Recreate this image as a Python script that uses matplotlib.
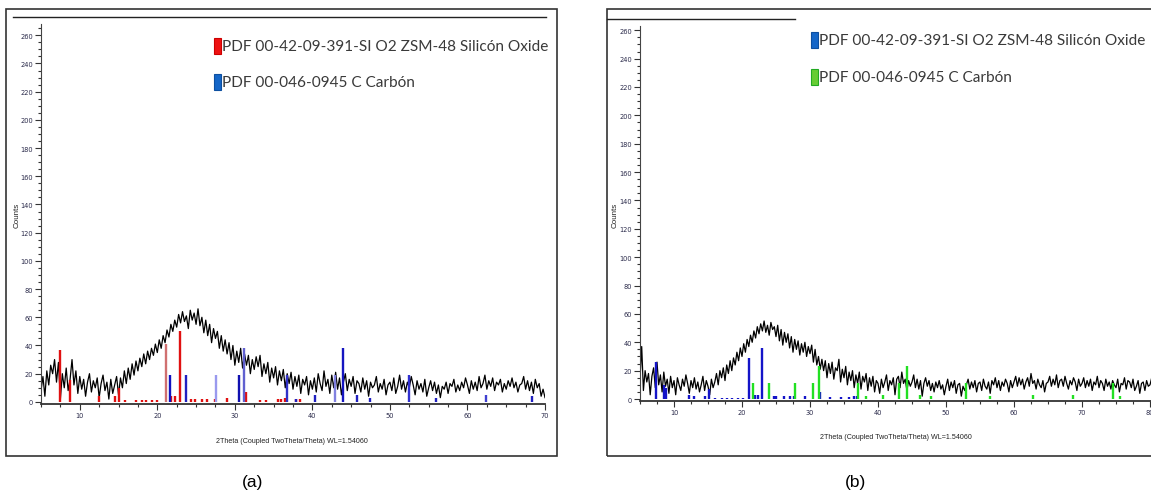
import numpy as np
import matplotlib
matplotlib.use('Agg')
import matplotlib.pyplot as plt
from matplotlib.patches import Rectangle
from matplotlib.lines import Line2D
from matplotlib.ticker import MultipleLocator

# ---- data: panel (a), counts every 0.25 deg from 5 to 70 ----
a_counts = [
    8, 18, 4, 22, 12, 26, 20, 30, 14, 28, 2, 20, 10, 24, 8, 16,
    30, 12, 22, 6, 18, 9, 16, 4, 14, 20, 7, 15, 10, 17, 3, 13,
    19, 8, 14, 2, 16, 6, 12, 18, 5, 17, 10, 22, 13, 24, 16, 27,
    19, 29, 22, 31, 25, 34, 27, 36, 30, 38, 33, 41, 35, 44, 38, 47,
    42, 51, 46, 55, 50, 58, 53, 62, 56, 64, 57, 61, 52, 65, 58, 63,
    55, 66, 54, 60, 49, 58, 47, 55, 42, 52, 45, 50, 38, 47, 36, 44,
    34, 42, 30, 40, 26, 36, 28, 38, 24, 34, 26, 33, 20, 30, 23, 32,
    25, 33, 18, 27, 20, 28, 14, 24, 17, 25, 12, 22, 15, 23, 10, 20,
    13, 21, 9, 18, 11, 19, 6, 16, 12, 18, 5, 15, 9, 17, 7, 20,
    13, 8, 22, 11, 16, 6, 19, 10, 21, 9, 17, 5, 14, 20, 8, 16,
    11, 18, 6, 15, 13, 7, 17, 9, 15, 4, 14, 10, 12, 18, 7, 13,
    9, 16, 5, 12, 14, 8, 17, 6, 11, 19, 9, 15, 7, 14, 10, 18,
    12, 5, 15, 9, 13, 7, 16, 4, 10, 15, 8, 14, 6, 12, 3, 11,
    9, 14, 6, 13, 11, 16, 7, 12, 8, 14, 10, 17, 12, 6, 15, 9,
    14, 8, 18, 10, 13, 19, 9, 15, 11, 17, 8, 14, 12, 16, 7, 13,
    9, 15, 11, 17, 10, 14, 7, 12, 13, 18, 9, 15, 8, 14, 6, 16,
    10, 13, 4, 9, 3,
]

# SiO2 ZSM-48 reference sticks (a)
a_sio2_pos = [7.5, 8.8, 12.45, 14.5, 15.0, 15.8, 17.2, 18.0, 18.6, 19.3, 20.0,
              21.06, 21.8, 22.3, 22.9, 24.3, 24.8, 25.7, 26.4, 27.4, 29.05,
              31.4, 33.2, 34.0, 35.6, 36.0, 36.5, 37.9, 38.4]
a_sio2_int = [37, 15.5, 4, 4, 10, 1.5, 1.5, 1, 1, 1.5, 1.5,
              41, 4, 4, 50, 2, 2, 2, 2, 2, 2.5,
              7, 1.5, 1.5, 2, 2, 2.5, 2, 2]
a_sio2_col = ['#e01010'] * len(a_sio2_pos)
a_sio2_col[11] = '#d07070'

# Carbon reference sticks (a)
a_carb_pos = [21.6, 23.7, 27.6, 30.5, 31.2, 36.75, 37.9, 40.4, 42.9, 43.9,
              45.8, 47.4, 52.5, 55.9, 62.4, 68.3]
a_carb_int = [19, 19, 19, 19, 38, 19, 2, 5, 19, 38, 5, 3, 19, 3, 5, 4]
a_carb_col = ['#1010c0', '#2020c0', '#9999ee', '#1010b0', '#6060d0', '#3030c8',
              '#2020c0', '#2020c0', '#8080e0', '#1515c0', '#2020c0', '#2020c0',
              '#3030d0', '#2020c0', '#4040d0', '#2020c0']

# ---- data: panel (b), counts every 0.25 deg from 5 to 82 ----
b_counts = [
    14, 37, 6, 20, 12, 18, 3, 16, 22, 8, 26, 10, 17, 5, 19, 9,
    14, 4, 16, 8, 13, 3, 15, 10, 6, 14, 9, 17, 11, 4, 13, 8,
    15, 7, 12, 5, 10, 16, 6, 13, 9, 3, 14, 8, 12, 18, 10, 20,
    15, 22, 13, 24, 18, 27, 20, 29, 24, 33, 27, 36, 30, 39, 33, 42,
    37, 45, 40, 48, 43, 51, 46, 53, 48, 55, 47, 52, 45, 54, 49, 51,
    44, 52, 41, 49, 38, 47, 40, 46, 36, 44, 33, 42, 35, 41, 31, 39,
    33, 40, 30, 37, 32, 38, 26, 35, 24, 30, 21, 28, 20, 27, 15, 25,
    18, 26, 14, 22, 20, 28, 12, 21, 15, 23, 10, 19, 13, 20, 8, 17,
    11, 19, 7, 16, 12, 18, 6, 15, 9, 16, 5, 13, 11, 4, 14, 8,
    12, 17, 6, 13, 10, 15, 3, 14, 16, 8, 19, 11, 14, 6, 13, 9,
    12, 17, 8, 14, 7, 13, 2, 11, 15, 9, 13, 6, 11, 5, 12, 8,
    13, 7, 10, 3, 9, 14, 6, 12, 8, 13, 4, 10, 11, 2, 9, 6,
    10, 14, 7, 12, 8, 13, 5, 11, 12, 6, 14, 9, 7, 12, 4, 13,
    10, 15, 8, 13, 6, 12, 9, 14, 11, 5, 13, 8, 12, 16, 9, 15,
    10, 14, 7, 12, 15, 9, 18, 11, 13, 7, 14, 10, 8, 13, 5, 11,
    12, 16, 9, 14, 10, 17, 8, 13, 14, 9, 16, 11, 7, 13, 10, 15,
    12, 6, 14, 9, 11, 15, 8, 13, 9, 14, 6, 12, 10, 16, 8, 13,
    11, 6, 14, 9, 12, 7, 13, 10, 8, 14, 5, 11, 10, 15, 7, 13,
    12, 8, 14, 6, 9, 13, 4, 11, 12, 6, 13, 9, 10, 15, 7, 12,
    9, 13, 6, 11, 8,
]

b_sio2_pos = [7.35, 8.5, 8.8, 12.25, 13.0, 14.6, 15.2, 16.0, 17.0, 17.8, 18.6,
              19.4, 20.2, 21.1, 21.9, 22.3, 22.9, 24.7, 25.0, 26.2, 27.0, 27.6,
              29.3, 31.5, 33.0, 34.5, 35.8, 36.5, 36.9]
b_sio2_int = [26, 10, 8, 3, 2, 2, 7, 1, 1, 1, 1,
              1, 1, 29, 3, 3, 35.7, 2, 2, 2, 2, 2,
              2, 5, 1.5, 1.5, 1.5, 2, 2]

b_carb_pos = [21.6, 23.9, 27.8, 30.5, 31.3, 37.0, 38.2, 40.7, 43.1, 44.2, 46.2,
              47.8, 52.9, 56.4, 62.8, 68.7, 74.6, 75.6]
b_carb_int = [11, 11, 11, 11, 23, 11, 2, 3, 11, 23, 3, 2, 11, 2, 3, 3, 11, 2]

legend_sio2 = 'PDF 00-42-09-391-SI O2 ZSM-48 Silicón Oxide'
legend_carb = 'PDF 00-046-0945 C Carbón'
x_title = '2Theta (Coupled TwoTheta/Theta) WL=1.54060'

W, H = 1151, 502
fig = plt.figure(figsize=(W / 100, H / 100), dpi=100)


def fx(px):
    return px / W


def fy(py):
    return 1 - py / H


def fit(t, width_px):
    r = fig.canvas.get_renderer()
    w = t.get_window_extent(r).width
    t.set_fontsize(t.get_fontsize() * width_px / w)


def panel(box, counts, xlim, ylim, sticks):
    l, t, r, b = box
    ax = fig.add_axes([fx(l), fy(b), (r - l) / W, (b - t) / H])
    x = 5 + 0.25 * np.arange(len(counts))
    ax.plot(x, counts, color='black', lw=0.9, zorder=2)
    for pos, hts, cols in sticks:
        ax.vlines(pos, 0, hts, colors=cols, lw=1.7, zorder=3)
    ax.set_xlim(*xlim)
    ax.set_ylim(*ylim)
    for s in ('top', 'right'):
        ax.spines[s].set_visible(False)
    ax.spines['left'].set_color('#444444')
    ax.spines['left'].set_linewidth(0.8)
    ax.spines['bottom'].set_color('#333333')
    ax.spines['bottom'].set_linewidth(1.3)
    ax.xaxis.set_major_locator(MultipleLocator(10))
    ax.xaxis.set_minor_locator(MultipleLocator(2.5))
    ax.yaxis.set_major_locator(MultipleLocator(20))
    ax.yaxis.set_minor_locator(MultipleLocator(5))
    ax.tick_params(which='both', direction='out', colors='#333333',
                   labelcolor='#2a2a4a', labelsize=4.8, width=0.8, pad=1.5)
    ax.tick_params(which='major', length=4)
    ax.tick_params(which='minor', length=2.2)
    ax.patch.set_alpha(0)
    return ax


# outer frames and top rules
for (l, t, r, b) in [(6, 10, 557, 457), (607, 10, 1170, 457)]:
    fig.patches.append(Rectangle((fx(l), fy(b)), (r - l) / W, (b - t) / H,
                                 transform=fig.transFigure, fill=False,
                                 edgecolor='#333333', lw=1.2))
fig.lines.append(Line2D([fx(13), fx(546)], [fy(18), fy(18)],
                        transform=fig.transFigure, color='#222222', lw=1.0))
fig.lines.append(Line2D([fx(607), fx(795)], [fy(20), fy(20)],
                        transform=fig.transFigure, color='#222222', lw=1.0))

ax_a = panel((41, 25, 545, 405), a_counts, (5, 70), (-1.5, 268),
             [(a_sio2_pos, a_sio2_int, a_sio2_col),
              (a_carb_pos, a_carb_int, a_carb_col)])
ax_b = panel((640, 27, 1184, 402), b_counts, (5, 85), (-1.4, 263),
             [(b_sio2_pos, b_sio2_int, '#1414c8'),
              (b_carb_pos, b_carb_int, '#22e022')])

# legends drawn as coloured tabs plus text
legend_font = ['Lato', 'DejaVu Sans']
small_font = ['Liberation Sans Narrow', 'Liberation Sans', 'DejaVu Sans']
items = [
    (214, 47, '#ee1111', '#cc0000', legend_sio2, 326),
    (214, 83, '#1466c8', '#0d4fa0', legend_carb, 190),
    (811, 41, '#1466c8', '#0d4fa0', legend_sio2, 327),
    (811, 78, '#66cc33', '#22aa22', legend_carb, 190),
]
fitted = None
for px, py, fc, ec, txt, wpx in items:
    fig.patches.append(Rectangle((fx(px), fy(py + 8)), 7 / W, 16 / H,
                                 transform=fig.transFigure, facecolor=fc,
                                 edgecolor=ec, lw=0.8))
    t = fig.text(fx(px + 8), fy(py), txt, fontsize=11, family=legend_font,
                 color='#3a3a3a', va='center', ha='left')
    if fitted is None:
        fit(t, wpx)
        fitted = t.get_fontsize()
    else:
        t.set_fontsize(fitted)

for cx, cy in [(292, 442), (896, 438)]:
    t = fig.text(fx(cx), fy(cy), x_title, fontsize=6, family=small_font,
                 color='#222222', ha='center', va='center')
    fit(t, 154)
for cx in (17, 615):
    fig.text(fx(cx), fy(215), 'Counts', fontsize=5.8, family=small_font,
             color='#222222', rotation=90, ha='center', va='center')

fig.text(fx(253), fy(483), '(a)', fontsize=12.5,
         family=['Liberation Sans', 'DejaVu Sans'], ha='center', va='center')
fig.text(fx(855), fy(483), '(b)', fontsize=12.5,
         family=['Liberation Sans', 'DejaVu Sans'], ha='center', va='center')

fig.savefig('out.png', dpi=100)
